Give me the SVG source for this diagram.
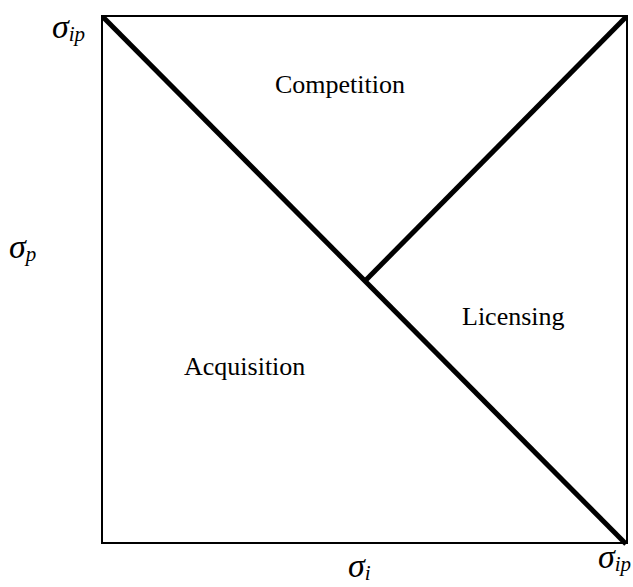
<svg xmlns="http://www.w3.org/2000/svg" width="633" height="587" viewBox="0 0 633 587">
<style>
.frame{fill:none;stroke:#000;stroke-width:2}
.thick{stroke:#000;stroke-width:5;fill:none}
text{font-family:'Liberation Serif',serif;fill:#000}
.lbl{font-size:26px}
.sym{font-style:italic;font-size:34px}
.sub{font-size:21px}
</style>
<rect width="633" height="587" fill="#fff"/>
<g id="frame"><rect class="frame" x="102" y="16" width="525" height="527"/></g>
<g id="connectors">
<line class="thick" x1="103" y1="17" x2="626" y2="544"/>
<line class="thick" x1="365" y1="281" x2="626" y2="17"/>
</g>
<g id="competition"><text class="lbl" font-family="Liberation Serif, serif" x="275" y="93">Competition</text></g>
<g id="acquisition"><text class="lbl" font-family="Liberation Serif, serif" x="184" y="375">Acquisition</text></g>
<g id="licensing"><text class="lbl" font-family="Liberation Serif, serif" x="462" y="325">Licensing</text></g>
<g id="sigma-ip-top"><text class="sym" font-family="Liberation Serif, serif" x="52" y="38">σ<tspan class="sub" dy="3">ip</tspan></text></g>
<g id="sigma-p"><text class="sym" font-family="Liberation Serif, serif" x="9" y="258">σ<tspan class="sub" dy="3">p</tspan></text></g>
<g id="sigma-i"><text class="sym" font-family="Liberation Serif, serif" x="348" y="577">σ<tspan class="sub" dy="3">i</tspan></text></g>
<g id="sigma-ip-bottom"><text class="sym" font-family="Liberation Serif, serif" x="598" y="568">σ<tspan class="sub" dy="3">ip</tspan></text></g>
</svg>
